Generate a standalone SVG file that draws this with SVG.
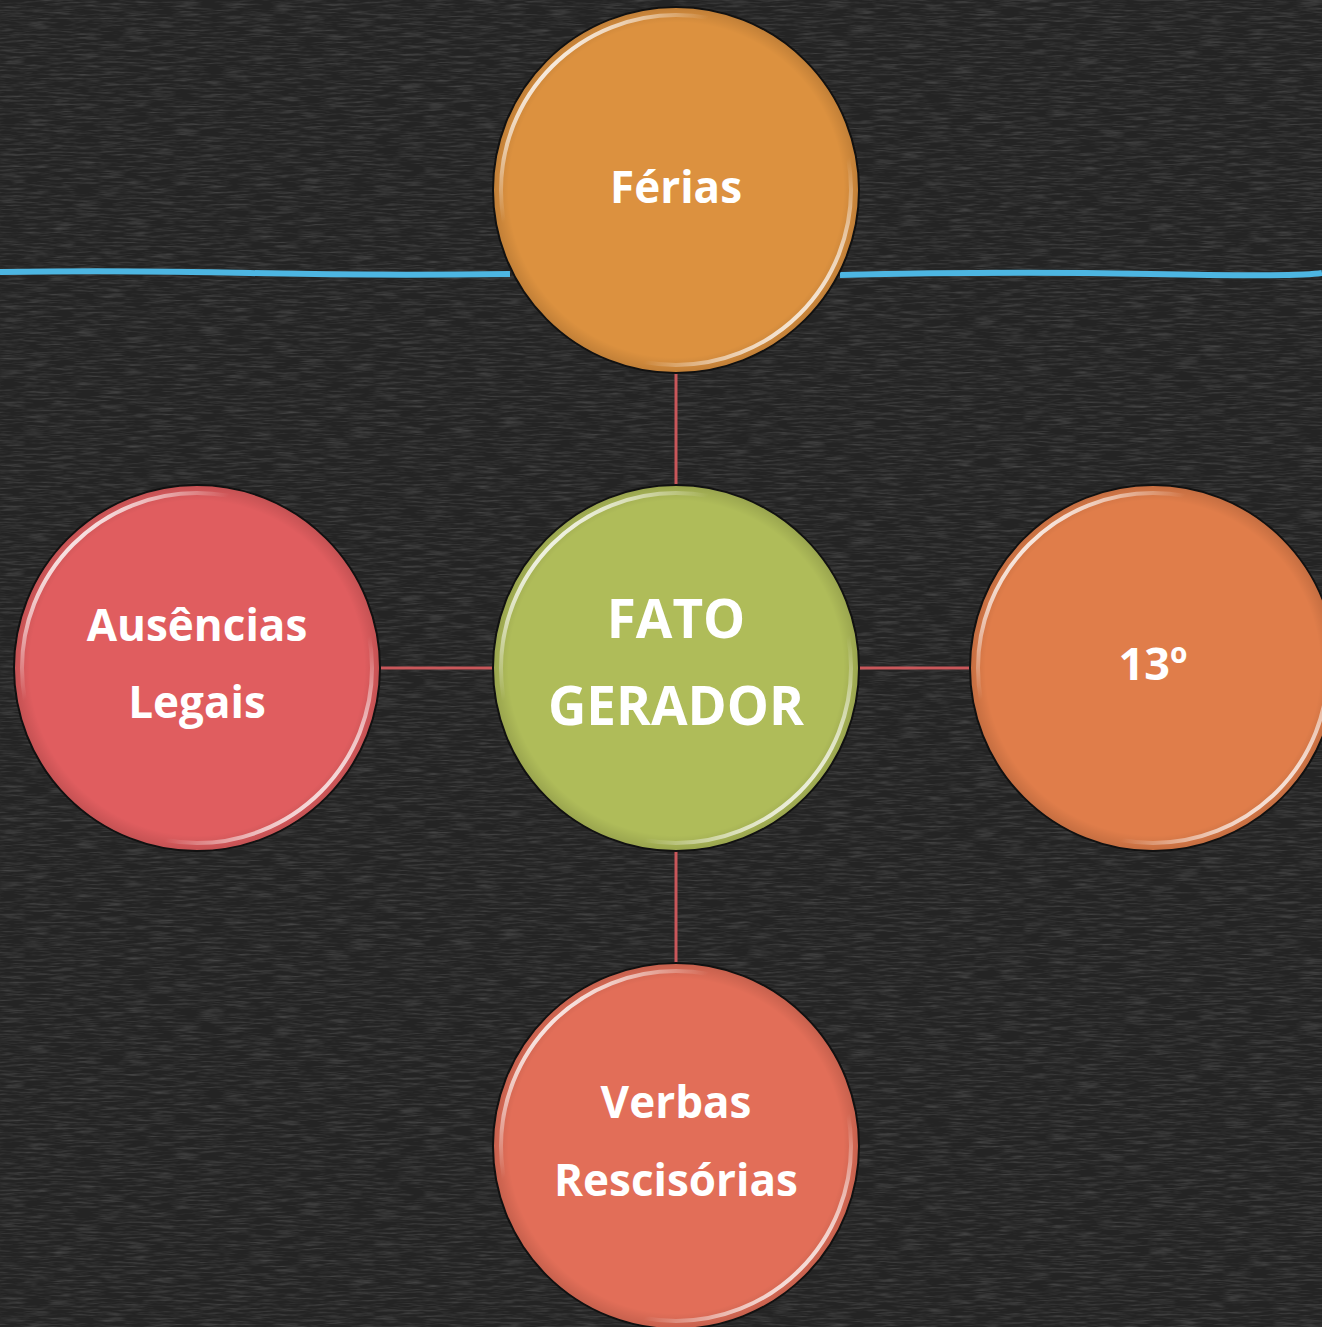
<svg xmlns="http://www.w3.org/2000/svg" width="1322" height="1327" viewBox="0 0 1322 1327">
<defs>
<filter id="noise" x="0" y="0" width="100%" height="100%">
<feTurbulence type="fractalNoise" baseFrequency="0.04 0.5" numOctaves="3" seed="4" result="n"/>
<feColorMatrix type="matrix" values="0 0 0 0 1  0 0 0 0 1  0 0 0 0 1  0 0 0 0.9 -0.38" />
</filter>
<linearGradient id="rim" x1="0" y1="0" x2="1" y2="1">
<stop offset="0" stop-color="#fff" stop-opacity="0"/>
<stop offset="0.13" stop-color="#fff" stop-opacity="0.9"/>
<stop offset="0.3" stop-color="#fff" stop-opacity="0"/>
<stop offset="0.7" stop-color="#fff" stop-opacity="0"/>
<stop offset="0.87" stop-color="#fff" stop-opacity="0.85"/>
<stop offset="1" stop-color="#fff" stop-opacity="0"/>
</linearGradient>
<radialGradient id="shade" cx="0.5" cy="0.5" r="0.5">
<stop offset="0.92" stop-color="#000" stop-opacity="0"/>
<stop offset="1" stop-color="#000" stop-opacity="0.12"/>
</radialGradient>
</defs>
<style>
.ball{stroke:#111;stroke-width:2}
.rim{fill:none;stroke:url(#rim);stroke-width:4}
.sh{fill:url(#shade)}
.lbl{font-family:"Open Sans","Noto Sans","DejaVu Sans",sans-serif;font-weight:bold;fill:#fff;text-anchor:middle}
.conn line{stroke:#C9575A;stroke-width:3}
</style>
<rect width="1322" height="1327" fill="#242424"/>
<rect width="1322" height="1327" filter="url(#noise)" opacity="0.35"/>
<g id="blue-line" fill="none" stroke="#4DB6E2" stroke-width="6">
<path d="M0 272 Q120 270 250 273 T510 274"/>
<path d="M840 275 Q1000 271 1150 274 T1322 273"/>
</g>
<g class="conn" id="connectors">
<line x1="676" y1="373" x2="676" y2="486"/>
<line x1="676" y1="851" x2="676" y2="964"/>
<line x1="380" y1="668" x2="493" y2="668"/>
<line x1="859" y1="668" x2="970" y2="668"/>
</g>
<g id="ferias">
<circle class="ball" cx="676" cy="190" r="183" fill="#DC913F"/>
<circle class="sh" cx="676" cy="190" r="182"/>
<circle class="rim" cx="676" cy="190" r="175"/>
<text class="lbl" x="676" y="203" font-size="44">Férias</text>
</g>
<g id="fato-gerador">
<circle class="ball" cx="676" cy="668" r="183" fill="#AFBC59"/>
<circle class="sh" cx="676" cy="668" r="182"/>
<circle class="rim" cx="676" cy="668" r="175"/>
<text class="lbl" x="676" y="638" font-size="53">FATO</text>
<text class="lbl" x="676" y="725" font-size="53">GERADOR</text>
</g>
<g id="ausencias">
<circle class="ball" cx="197" cy="668" r="183" fill="#E05D5F"/>
<circle class="sh" cx="197" cy="668" r="182"/>
<circle class="rim" cx="197" cy="668" r="175"/>
<text class="lbl" x="197" y="641" font-size="44">Ausências</text>
<text class="lbl" x="197" y="718" font-size="44">Legais</text>
</g>
<g id="decimo-terceiro">
<circle class="ball" cx="1153" cy="668" r="183" fill="#E07D4A"/>
<circle class="sh" cx="1153" cy="668" r="182"/>
<circle class="rim" cx="1153" cy="668" r="175"/>
<text class="lbl" x="1153" y="680" font-size="45">13º</text>
</g>
<g id="verbas">
<circle class="ball" cx="676" cy="1146" r="183" fill="#E26E58"/>
<circle class="sh" cx="676" cy="1146" r="182"/>
<circle class="rim" cx="676" cy="1146" r="175"/>
<text class="lbl" x="676" y="1118" font-size="44">Verbas</text>
<text class="lbl" x="676" y="1196" font-size="44">Rescisórias</text>
</g>
</svg>
